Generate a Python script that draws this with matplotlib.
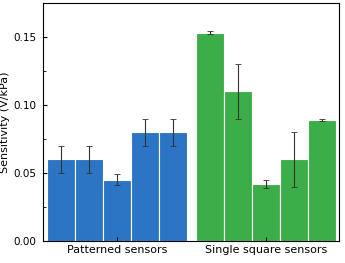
import numpy as np
import matplotlib.pyplot as plt

groups = ['Patterned sensors', 'Single square sensors']
patterned = [0.060, 0.060, 0.045, 0.080, 0.080]
patterned_err = [0.010, 0.010, 0.004, 0.010, 0.010]
single = [0.153, 0.110, 0.042, 0.060, 0.089]
single_err = [0.001, 0.020, 0.003, 0.020, 0.001]

fig = plt.figure(figsize=(3.45, 2.63), dpi=100)
ax = fig.add_axes([0.125, 0.084, 0.858, 0.905])

x1 = np.arange(1, 6)
x2 = np.arange(1, 6) + 5.32
err_kw = dict(ecolor='#333333', elinewidth=0.8, capsize=2, capthick=0.6)
ax.bar(x1, patterned, width=1.0, color='#2b75c4', edgecolor='white', linewidth=0.8,
       yerr=patterned_err, error_kw=err_kw)
ax.bar(x2, single, width=1.0, color='#3cae49', edgecolor='white', linewidth=0.8,
       yerr=single_err, error_kw=err_kw)

ax.set_xlim(0.37, 10.92)
ax.set_ylim(0, 0.175)
ax.set_xticks([x1.mean(), x2.mean()])
ax.set_xticklabels(groups, fontsize=8)
ax.set_yticks([0, 0.05, 0.10, 0.15])
ax.set_yticklabels(['0.00', '0.05', '0.10', '0.15'], fontsize=7.5)
ax.set_yticks([0.025, 0.075, 0.125], minor=True)
ax.tick_params(axis='both', direction='in', length=3, width=0.8, pad=5)
ax.tick_params(axis='x', pad=3)
ax.tick_params(axis='y', which='minor', direction='in', length=2, width=0.6)
ax.set_ylabel('Sensitivity (V/kPa)', fontsize=8, labelpad=2)
for s in ax.spines.values():
    s.set_linewidth(0.8)

fig.savefig('out.png', dpi=100)
